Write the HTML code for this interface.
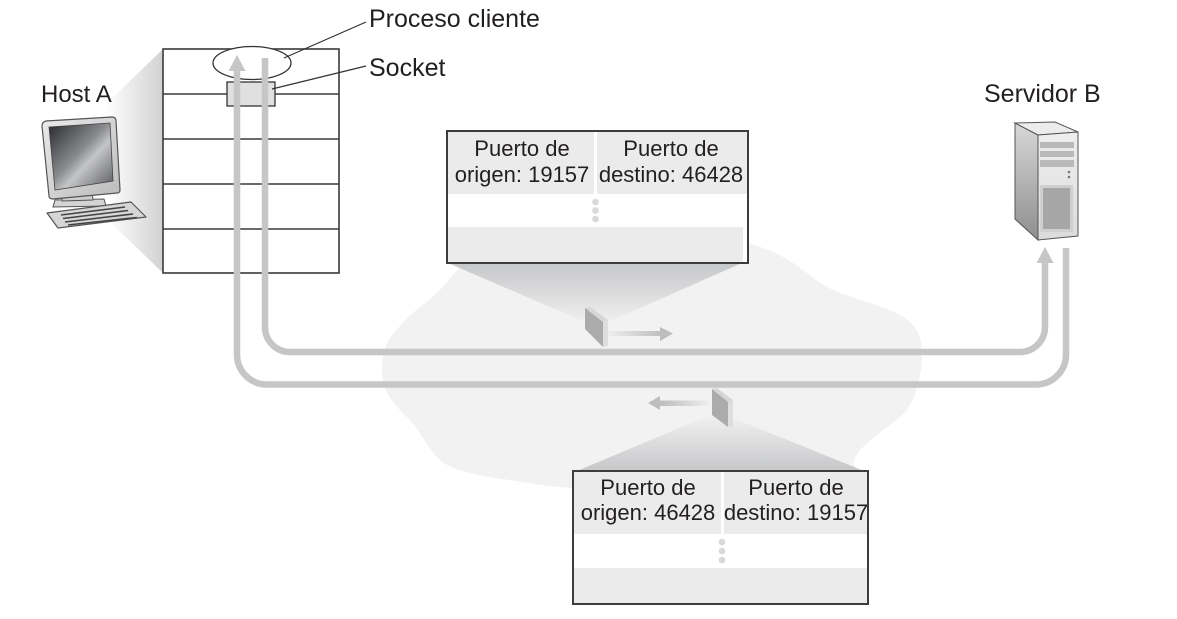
<!DOCTYPE html>
<html>
<head>
<meta charset="utf-8">
<style>
html,body{margin:0;padding:0;background:#fff;}
svg{display:block;}
text{font-family:"Liberation Sans",Arial,sans-serif;fill:#231f20;}
</style>
</head>
<body>
<svg width="1177" height="619" viewBox="0 0 1177 619" xmlns="http://www.w3.org/2000/svg">
<defs>
  <linearGradient id="hostProj" x1="105" y1="0" x2="163" y2="0" gradientUnits="userSpaceOnUse">
    <stop offset="0" stop-color="#ffffff"/>
    <stop offset="1" stop-color="#d2d2d2"/>
  </linearGradient>
  <linearGradient id="topProj" x1="0" y1="263" x2="0" y2="325" gradientUnits="userSpaceOnUse">
    <stop offset="0" stop-color="#c6c7c9"/>
    <stop offset="1" stop-color="#f1f1f1"/>
  </linearGradient>
  <linearGradient id="botProj" x1="0" y1="415" x2="0" y2="471" gradientUnits="userSpaceOnUse">
    <stop offset="0" stop-color="#f1f1f1"/>
    <stop offset="1" stop-color="#c6c7c9"/>
  </linearGradient>
  <linearGradient id="shaftR" x1="608" y1="0" x2="662" y2="0" gradientUnits="userSpaceOnUse">
    <stop offset="0" stop-color="#eeeeee"/>
    <stop offset="1" stop-color="#bdbdbd"/>
  </linearGradient>
  <linearGradient id="shaftL" x1="710" y1="0" x2="660" y2="0" gradientUnits="userSpaceOnUse">
    <stop offset="0" stop-color="#eeeeee"/>
    <stop offset="1" stop-color="#bdbdbd"/>
  </linearGradient>
  <linearGradient id="screen" x1="49" y1="127" x2="113" y2="188" gradientUnits="userSpaceOnUse">
    <stop offset="0" stop-color="#2e2f33"/>
    <stop offset="0.45" stop-color="#8a8b8e"/>
    <stop offset="0.6" stop-color="#c4c5c7"/>
    <stop offset="1" stop-color="#5b5c60"/>
  </linearGradient>
  <linearGradient id="bezel" x1="43" y1="120" x2="118" y2="195" gradientUnits="userSpaceOnUse">
    <stop offset="0" stop-color="#e9e9e9"/>
    <stop offset="1" stop-color="#bdbdbd"/>
  </linearGradient>
  <linearGradient id="srvSide" x1="0" y1="123" x2="0" y2="240" gradientUnits="userSpaceOnUse">
    <stop offset="0" stop-color="#d8d8d8"/>
    <stop offset="1" stop-color="#8e8e8e"/>
  </linearGradient>
  <linearGradient id="srvFront" x1="0" y1="133" x2="0" y2="236" gradientUnits="userSpaceOnUse">
    <stop offset="0" stop-color="#eeeeee"/>
    <stop offset="1" stop-color="#dcdcdc"/>
  </linearGradient>
</defs>

<!-- cloud -->
<path d="M460,267 C450,278 445,285 437,293 C420,308 410,314 403,323 C394,332 389,338 387,343 C383,352 382,360 382,370 C382,380 384,387 387,393 C394,405 402,412 410,420 C420,432 428,447 437,457 C445,465 452,468 460,470 C478,476 494,478 510,480 C530,484 550,486 570,488 L860,478 C857,470 855,466 853,463 C856,455 859,451 863,447 C870,440 876,436 883,430 C892,424 901,417 907,410 C912,402 915,395 917,387 C920,377 922,367 922,357 C922,347 921,340 918,333 C914,325 909,320 903,317 C893,311 882,307 870,303 C855,298 840,294 827,287 C815,280 805,271 793,263 C782,256 771,250 760,247 C750,244 745,242 740,240 L480,240 C470,248 465,258 460,267 Z" fill="#f2f2f2"/>

<!-- host projection -->
<polygon points="105,105 163,49 163,273 110,222" fill="url(#hostProj)"/>

<!-- top table projection -->
<polygon points="448,263 742,263 613,320 580,320" fill="url(#topProj)"/>
<!-- bottom table projection -->
<polygon points="710,415 733,418 864,471 577,471" fill="url(#botProj)"/>

<!-- host stack -->
<rect x="163" y="49" width="176" height="224" fill="#fff" stroke="#3a3a3a" stroke-width="1.6"/>
<line x1="163" y1="94" x2="339" y2="94" stroke="#3a3a3a" stroke-width="1.5"/>
<line x1="163" y1="139" x2="339" y2="139" stroke="#3a3a3a" stroke-width="1.5"/>
<line x1="163" y1="184" x2="339" y2="184" stroke="#3a3a3a" stroke-width="1.5"/>
<line x1="163" y1="229" x2="339" y2="229" stroke="#3a3a3a" stroke-width="1.5"/>
<ellipse cx="252" cy="63" rx="39" ry="16.5" fill="#fff" stroke="#333" stroke-width="1.3"/>
<rect x="227" y="82" width="48" height="24" fill="#e0e0e0" stroke="#333" stroke-width="1.3"/>

<!-- leader lines -->
<line x1="366" y1="22" x2="284" y2="58" stroke="#333" stroke-width="1.2"/>
<line x1="366" y1="66" x2="272" y2="89" stroke="#333" stroke-width="1.2"/>

<!-- connection paths -->
<path d="M237,70 L237,354 A30,30 0 0 0 267,384.5 L1036,384.5 A30,30 0 0 0 1066,354.5 L1066,248" fill="none" stroke="#c6c6c6" stroke-width="6.5"/>
<polygon points="237,55 245.5,71 228.5,71" fill="#c6c6c6"/>
<path d="M265,58 L265,327 A25,25 0 0 0 290,352 L1020,352 A25,25 0 0 0 1045,327 L1045,261" fill="none" stroke="#c6c6c6" stroke-width="6.5"/>
<polygon points="1045,247 1053.5,263 1036.5,263" fill="#c6c6c6"/>

<!-- packet 1 -->
<polygon points="585,308 590,307 608,320 603,322" fill="#d6d6d6"/>
<polygon points="603,322 608,320 608,346 603,347" fill="#dedede"/>
<polygon points="585,308 603,322 603,347 585,329" fill="#ababab"/>
<rect x="608" y="331" width="52" height="5" fill="url(#shaftR)"/>
<polygon points="660,327 673,333.5 660,341" fill="#bdbdbd"/>

<!-- packet 2 -->
<polygon points="712,389 717,388 733,400 728,402" fill="#d6d6d6"/>
<polygon points="728,402 733,400 733,427 728,427" fill="#dedede"/>
<polygon points="712,389 728,402 728,427 712,415" fill="#ababab"/>
<rect x="660" y="400.5" width="50" height="5.5" fill="url(#shaftL)"/>
<polygon points="660,396 648,403 660,410" fill="#bdbdbd"/>

<!-- top table -->
<rect x="447" y="131" width="301" height="132" fill="#fff"/>
<rect x="448" y="132" width="299" height="62" fill="#ebebeb"/>
<rect x="594" y="132" width="3" height="62" fill="#fff"/>
<rect x="448" y="227" width="295" height="35" fill="#ebebeb"/>
<circle cx="595.5" cy="202" r="3.3" fill="#d9d9d9"/>
<circle cx="595.5" cy="210.5" r="3.3" fill="#d9d9d9"/>
<circle cx="595.5" cy="219" r="3.3" fill="#d9d9d9"/>
<rect x="447" y="131" width="301" height="132" fill="none" stroke="#3c3c3c" stroke-width="2"/>
<text x="522" y="156" font-size="22" text-anchor="middle">Puerto de</text>
<text x="522" y="182" font-size="22" text-anchor="middle">origen: 19157</text>
<text x="671" y="156" font-size="22" text-anchor="middle">Puerto de</text>
<text x="671" y="182" font-size="22" text-anchor="middle">destino: 46428</text>

<!-- bottom table -->
<rect x="573" y="471" width="295" height="133" fill="#fff"/>
<rect x="574" y="472" width="293" height="62" fill="#ebebeb"/>
<rect x="721" y="472" width="3" height="62" fill="#fff"/>
<rect x="574" y="568" width="293" height="35" fill="#ebebeb"/>
<circle cx="722" cy="542" r="3.3" fill="#d9d9d9"/>
<circle cx="722" cy="551" r="3.3" fill="#d9d9d9"/>
<circle cx="722" cy="560" r="3.3" fill="#d9d9d9"/>
<rect x="573" y="471" width="295" height="133" fill="none" stroke="#3c3c3c" stroke-width="2"/>
<text x="648" y="495" font-size="22" text-anchor="middle">Puerto de</text>
<text x="648" y="520" font-size="22" text-anchor="middle">origen: 46428</text>
<text x="796" y="495" font-size="22" text-anchor="middle">Puerto de</text>
<text x="796" y="520" font-size="22" text-anchor="middle">destino: 19157</text>

<!-- labels -->
<text x="41" y="102" font-size="24">Host A</text>
<text x="369" y="27" font-size="25">Proceso cliente</text>
<text x="369" y="76" font-size="25">Socket</text>
<text x="984" y="102" font-size="25">Servidor B</text>

<!-- computer -->
<polygon points="55,200 104,199 106,206 53,207" fill="#d4d4d4" stroke="#555" stroke-width="1"/>
<polygon points="63,192 92,190 93,200 62,201" fill="#cfcfcf" stroke="#555" stroke-width="1"/>
<path d="M46,121 L112,117 Q116,117 116,121 L120,190 Q120,193 117,193 L53,199 Q49,199 49,196 L42,126 Q42,122 46,121 Z" fill="url(#bezel)" stroke="#555" stroke-width="1.2"/>
<polygon points="49,127 110,123 113,181 55,190" fill="url(#screen)" stroke="#444" stroke-width="0.8"/>
<path d="M47,213 L131,202 L146,217 L58,228 Z" fill="#d6d6d6" stroke="#555" stroke-width="1.2" stroke-linejoin="round"/>
<line x1="61" y1="215" x2="125" y2="207" stroke="#444" stroke-width="1.6"/>
<line x1="63" y1="218.5" x2="128" y2="210.5" stroke="#444" stroke-width="1.6"/>
<line x1="65" y1="222" x2="133" y2="214" stroke="#444" stroke-width="1.6"/>
<line x1="68" y1="225" x2="137" y2="217.5" stroke="#444" stroke-width="1.6"/>

<!-- server -->
<polygon points="1015,123 1038,135 1038,240 1015,219" fill="url(#srvSide)" stroke="#555" stroke-width="1"/>
<polygon points="1015,123 1055,122 1078,132 1038,135" fill="#ececec" stroke="#555" stroke-width="1"/>
<polygon points="1038,135 1078,132 1078,236 1038,240" fill="url(#srvFront)" stroke="#555" stroke-width="1"/>
<rect x="1040" y="142" width="34" height="6" fill="#b9b9b9"/>
<rect x="1040" y="151" width="34" height="6" fill="#b9b9b9"/>
<rect x="1040" y="160" width="34" height="7" fill="#b9b9b9"/>
<circle cx="1069" cy="172" r="1.3" fill="#777"/>
<circle cx="1069" cy="177" r="1.3" fill="#777"/>
<rect x="1040" y="185" width="33" height="47" fill="#cfcfcf"/>
<rect x="1043" y="188" width="27" height="41" fill="#a6a6a6"/>
</svg>
</body>
</html>
